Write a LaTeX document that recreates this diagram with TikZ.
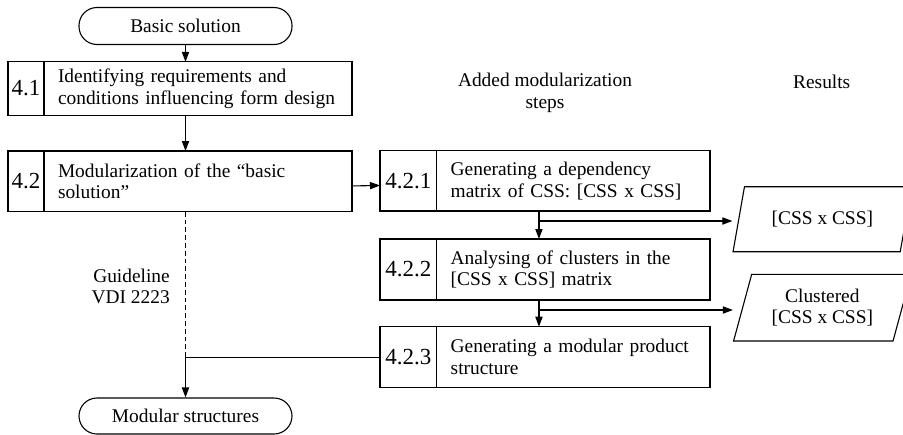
\documentclass[tikz,border=0pt]{standalone}
\usepackage{fontspec}
\setmainfont{Liberation Serif}
\usetikzlibrary{positioning,arrows.meta,shapes.geometric}

\begin{document}
\begin{tikzpicture}[x=0.5pt,y=-0.5pt,
	font=\fontsize{9.7}{10.9}\selectfont,
	line width=0.55pt,
	>={Triangle[length=5pt,width=3.6pt]},
	pill/.style={draw, rounded corners=9pt, minimum width=106.5pt, minimum height=18.5pt},
	num/.style={draw, outer sep=0pt, inner sep=0pt, font=\fontsize{11.5}{12}\selectfont},
	txt/.style={draw, outer sep=0pt, inner xsep=7pt, align=left},
	result/.style={draw, trapezium, trapezium left angle=74, trapezium right angle=106,
		trapezium stretches=true, minimum width=89.35pt, minimum height=32.5pt, align=center}]

	\useasboundingbox (0,0) rectangle (903,434);

	% main line
	\node[pill] (bs) at (185.5,26) {Basic solution};
	\node[num, minimum width=18pt, minimum height=26.65pt] (n41) at (26,88.5) {4.1};
	\node[txt, right=0pt of n41, text width=140pt, minimum height=26.65pt] (t41) {Identifying requirements and\\conditions influencing form design};
	\node[num, minimum width=18pt, minimum height=30.35pt] (n42) at (26,181.35) {4.2};
	\node[txt, right=0pt of n42, text width=140pt, minimum height=30.35pt] (t42) {Modularization of the “basic\\solution”};
	\node[pill, minimum height=18pt] (ms) at (185.5,416) {Modular structures};
	\node[anchor=east, align=right] (gl) at (177,286.5) {Guideline\\VDI 2223};

	% added steps
	\node[align=center] (hs) at (545,93) {Added modularization\\steps};
	\node (hr) at (821.7,82) {Results};
	\node[num, minimum width=28.35pt, minimum height=30.15pt] (n421) at (408.35,180.85) {4.2.1};
	\node[txt, right=0pt of n421, text width=122.65pt, minimum height=30.15pt] (t421) {Generating a dependency\\matrix of CSS: [CSS x CSS]};
	\node[num, minimum width=28.35pt, minimum height=30.5pt] (n422) at (408.35,269.5) {4.2.2};
	\node[txt, right=0pt of n422, text width=122.65pt, minimum height=30.5pt] (t422) {Analysing of clusters in the\\{}[CSS x CSS] matrix};
	\node[num, minimum width=28.35pt, minimum height=30.5pt] (n423) at (408.35,357.2) {4.2.3};
	\node[txt, right=0pt of n423, text width=122.65pt, minimum height=30.5pt] (t423) {Generating a modular product\\structure};

	% results
	\node[result] (r1) at (822.35,219.2) {[CSS x CSS]};
	\node[result, minimum height=33.3pt] (r2) at (822.35,307.65) {Clustered\\{}[CSS x CSS]};

	\coordinate (j) at (bs |- n423);
	\coordinate (b1) at ([xshift=-17.2pt,yshift=-5pt]t421.south);
	\coordinate (b2) at ([xshift=-17.2pt,yshift=-5pt]t422.south);

	\draw[->] (bs.south) -- (bs.south |- t41.north);
	\draw[->] (t41.south -| bs) -- (t42.north -| bs);
	\draw[->] ([yshift=-2.3pt]t42.east) -- ([yshift=-2.3pt]n421.west);
	\draw[->] ([xshift=-17.2pt]t421.south) -- ([xshift=-17.2pt]t422.north);
	\draw[->] ([xshift=-17.2pt]t422.south) -- ([xshift=-17.2pt]t423.north);
	\draw[->] (b1) -- (b1 -| r1.bottom left corner);
	\draw[->] (b2) -- (b2 -| r2.bottom left corner);
	\draw[dashed, dash pattern=on 2.4pt off 1.5pt] (t42.south -| bs) -- (j);
	\draw[->] (n423.west) -- (j) -- (ms.north);

\end{tikzpicture}
\end{document}
